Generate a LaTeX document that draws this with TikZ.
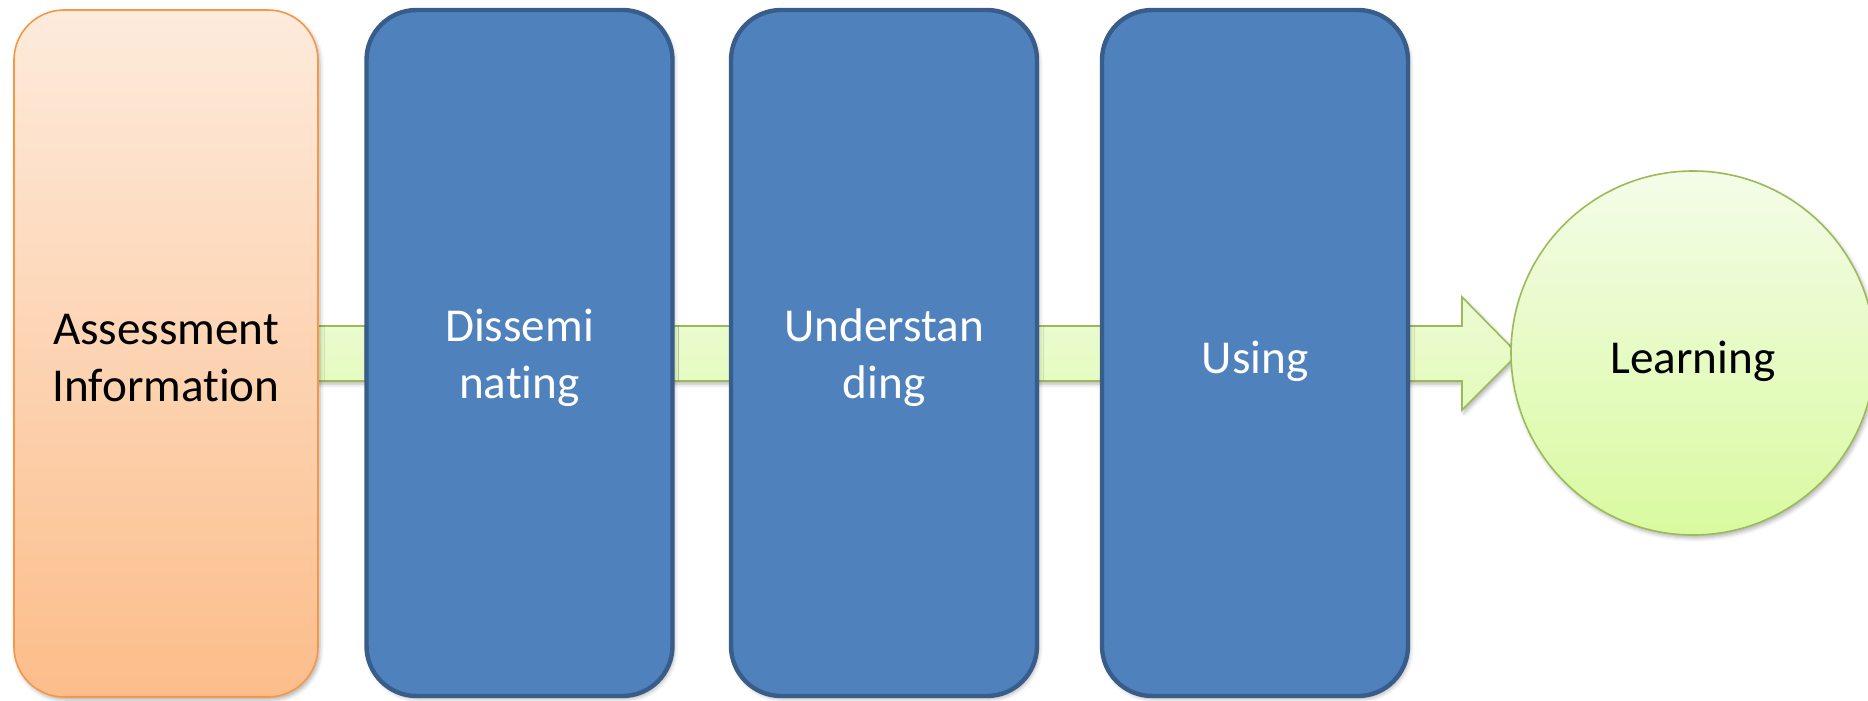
\documentclass[tikz,border=0pt]{standalone}
\usepackage{fontspec}
\setmainfont{Carlito}[Ligatures=NoCommon]
\usetikzlibrary{shadows.blur}
\definecolor{orTop}{RGB}{253,235,220}
\definecolor{orBot}{RGB}{252,189,138}
\definecolor{orLine}{RGB}{247,150,70}
\definecolor{blFill}{RGB}{79,129,189}
\definecolor{blLine}{RGB}{56,93,138}
\definecolor{grTop}{RGB}{244,252,232}
\definecolor{grBot}{RGB}{217,250,160}
\definecolor{grLine}{RGB}{155,187,89}
\tikzset{
  txt/.style={font=\fontsize{23.6pt}{28.5pt}\selectfont, align=center, inner sep=0pt},
  shad/.style={blur shadow={shadow xshift=1pt, shadow yshift=-1.5pt, shadow blur radius=2pt, shadow opacity=30}},
  infobox/.style={rectangle, rounded corners=25pt, draw=orLine, line width=0.8pt,
    top color=orTop, bottom color=orBot, minimum width=152pt, minimum height=343.5pt, inner sep=0pt, shad},
  stagebox/.style={rectangle, rounded corners=25pt, draw=blLine, line width=2.2pt,
    fill=blFill, minimum width=153pt, minimum height=343pt, inner sep=0pt, shad},
  goal/.style={circle, draw=grLine, line width=0.8pt, top color=grTop, bottom color=grBot,
    minimum size=182pt, inner sep=0pt, shad},
  flowarrow/.style={draw=grLine, line width=0.8pt, top color=grTop!70!grBot, bottom color=grBot!60!grTop, line join=miter, shad},
  oneline/.style={txt, yshift=-4pt},
  twoline/.style={txt, yshift=-2.5pt}
}
\begin{document}
\begin{tikzpicture}[x=0.5pt,y=-0.5pt]
\useasboundingbox (0,0) rectangle (1868,701);
\clip (0,0) rectangle (1868,701);
% arrow geometry
\coordinate (a1) at (317,326);
\coordinate (a2) at (1462,326);
\coordinate (a3) at (1462,297);
\coordinate (tip) at (1518,354);
\coordinate (a5) at (1462,410);
\coordinate (a6) at (1462,381);
\coordinate (a7) at (317,381);
\path[flowarrow] (a1) -- (a2) -- (a3) -- (tip) -- (a5) -- (a6) -- (a7) -- cycle;
\node[infobox] (info) at (166,353.5) {};
\node[stagebox] (dis) at (519.5,353) {};
\node[stagebox] (und) at (884,353) {};
\node[stagebox] (use) at (1255,353) {};
\node[goal] (learn) at (1693,353) {};
\node[twoline] (infotxt) at (info.center) {Assessment\\Information};
\node[twoline, text=white] (distxt) at (dis.center) {Dissemi\\nating};
\node[twoline, text=white] (undtxt) at (und.center) {Understan\\ding};
\node[oneline, text=white] (usetxt) at (use.center) {Using};
\node[oneline] (learntxt) at (learn.center) {Learning};
\end{tikzpicture}
\end{document}
